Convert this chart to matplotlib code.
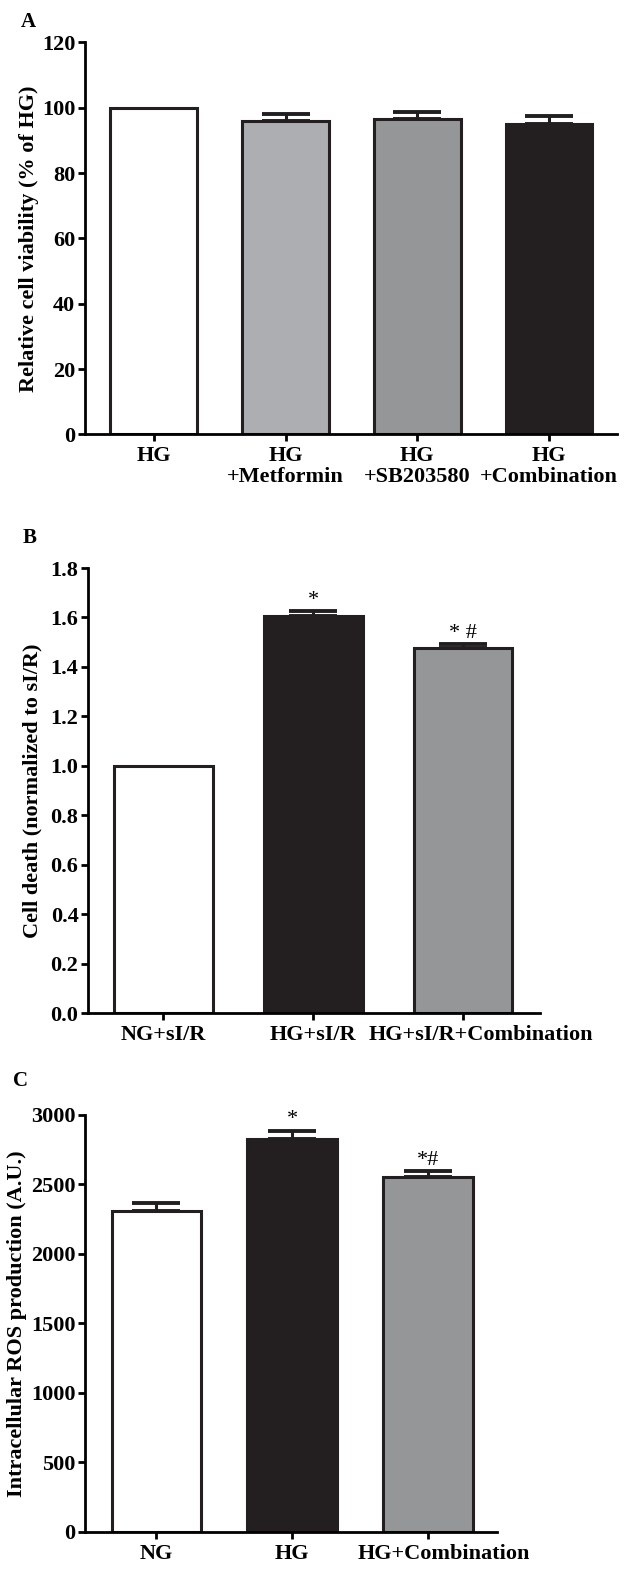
import matplotlib
matplotlib.use("Agg")
import matplotlib.pyplot as plt
from matplotlib.transforms import ScaledTranslation

plt.rcParams['font.family'] = ['Liberation Serif', 'DejaVu Serif']
plt.rcParams['font.weight'] = 'bold'

# panel A
a_labels = ["HG", "HG\n+Metformin", "HG\n+SB203580", "HG\n+Combination"]
a_values = [100, 96, 96.5, 95]
a_errors = [0, 2.0, 2.2, 2.6]
a_colors = ["white", "#adaeb2", "#959698", "#231f20"]

# panel B
b_labels = ["NG+sI/R", "HG+sI/R", "HG+sI/R+Combination"]
b_values = [1.0, 1.605, 1.478]
b_errors = [0, 0.022, 0.013]
b_colors = ["white", "#231f20", "#959698"]
b_marks = ["", "*", "* #"]

# panel C
c_labels = ["NG", "HG", "HG+Combination"]
c_values = [2305, 2830, 2550]
c_errors = [60, 55, 45]
c_colors = ["white", "#231f20", "#959698"]
c_marks = ["", "*", "*#"]

fig = plt.figure(figsize=(6.3, 15.74), dpi=100)


def draw(ax, labels, values, errors, colors, ylim, yticks, yticklabels, ylabel, xlim,
         pad, marks=None, mark_off=0):
    x = list(range(len(values)))
    ax.bar(x, values, width=0.66, color=colors, edgecolor="#231f20", linewidth=2.2, zorder=2)
    for xi, v, e in zip(x, values, errors):
        if e > 0:
            ax.errorbar(xi, v, yerr=[[0], [e]], fmt="none", ecolor="#231f20",
                        elinewidth=2.2, capsize=17, capthick=2.8, zorder=1)
    if marks:
        for xi, v, e, m in zip(x, values, errors, marks):
            if m:
                ax.text(xi, v + e + mark_off, m, ha="center", va="bottom", fontsize=16,
                        fontweight="normal")
    ax.set_ylim(*ylim)
    ax.set_xlim(*xlim)
    ax.set_yticks(yticks)
    ax.set_yticklabels(yticklabels, fontsize=16, fontweight="bold")
    ax.set_xticks(x)
    ax.set_xticklabels(labels, fontsize=16, fontweight="bold", linespacing=1.05)
    ax.tick_params(axis="y", width=2, length=5, pad=2)
    ax.tick_params(axis="x", width=2, length=5)
    ax.set_ylabel(ylabel, fontsize=16, fontweight="bold", labelpad=pad)
    ax.spines["top"].set_visible(False)
    ax.spines["right"].set_visible(False)
    ax.spines["left"].set_linewidth(2)
    ax.spines["bottom"].set_linewidth(2)


def shift_last(ax, dx):
    lab = ax.get_xticklabels()[-1]
    lab.set_transform(lab.get_transform() + ScaledTranslation(dx, 0, fig.dpi_scale_trans))


a_ticks = list(range(0, 121, 20))
ax1 = fig.add_axes([0.135, 0.724, 0.844, 0.249])
draw(ax1, a_labels, a_values, a_errors, a_colors, (0, 120), a_ticks,
     [str(t) for t in a_ticks], "Relative cell viability (% of HG)", (-0.523, 3.515), 2)

b_ticks = [0.0, 0.2, 0.4, 0.6, 0.8, 1.0, 1.2, 1.4, 1.6, 1.8]
ax2 = fig.add_axes([0.14, 0.3564, 0.717, 0.2827])
draw(ax2, b_labels, b_values, b_errors, b_colors, (0, 1.8), b_ticks,
     ["%.1f" % t for t in b_ticks], "Cell death (normalized to sI/R)", (-0.5, 2.513), 6,
     b_marks, 0.005)
shift_last(ax2, 0.18)

c_ticks = list(range(0, 3001, 500))
ax3 = fig.add_axes([0.135, 0.0267, 0.654, 0.265])
draw(ax3, c_labels, c_values, c_errors, c_colors, (0, 3000), c_ticks,
     [str(t) for t in c_ticks], "Intracellular ROS production (A.U.)", (-0.526, 2.51), 3,
     c_marks, 10)
shift_last(ax3, 0.16)

fig.text(0.033, 1 - 12 / 1574, "A", fontsize=15, fontweight="bold", va="top")
fig.text(0.036, 1 - 528 / 1574, "B", fontsize=15, fontweight="bold", va="top")
fig.text(0.021, 1 - 1071 / 1574, "C", fontsize=15, fontweight="bold", va="top")

fig.savefig("out.png", dpi=100)
